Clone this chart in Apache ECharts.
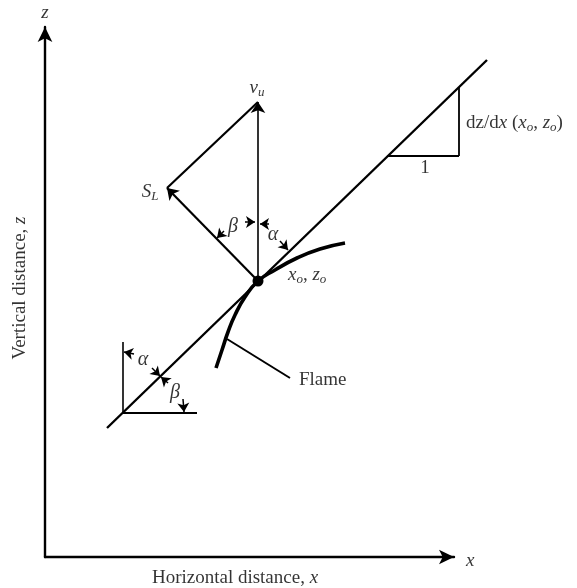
<!DOCTYPE html>
<html><head><meta charset="utf-8">
<script src="https://cdn.jsdelivr.net/npm/echarts@6/dist/echarts.min.js"></script>
<style>html,body{margin:0;padding:0;background:#fff}#c{width:577px;height:588px}</style>
</head><body><div id="c"></div>
<script>
// Diagram coordinates (origin at the corner of the axes)
const xRange = [0, 409];
const zRange = [0, 530];
const tangentLine = [[62, 129], [442, 497]];
const slopeRun = [[342, 401], [414, 401]];
const slopeRise = [[414, 401], [414, 470]];
const pointO = [213, 276];
const velocityTip = [213, 455];
const flameSpeedTip = [122, 369];
const flameCurve = [[300, 314], [275, 308], [252, 299], [230, 287], [213, 276], [200, 260], [190, 242], [183, 225], [177, 207], [171, 189]];
const flameLeader = [[182, 218], [245, 179]];
const refCorner = [78, 144];
const refVerticalTop = [78, 215];
const refHorizontalEnd = [152, 144];
const angleArrows = [
  [[179, 326], [172, 319]],
  [[200, 335], [210, 335]],
  [[224, 333], [215, 333]],
  [[235, 316], [243, 307]],
  [[89, 203], [79, 205]],
  [[107, 189], [115, 181]],
  [[123, 174], [116, 180]],
  [[138, 158], [139, 145]]
];
const labelTexts = [
  '{i|v}{s|u}', '{i|S}{s|L}', '{g|β}', '{g|α}', '{i|x}{s|o}{n|, }{i|z}{s|o}',
  '{n|dz/d}{i|x}{n| (}{i|x}{s|o}{n|, }{i|z}{s|o}{n|)}', '{n|1}', '{g|α}', '{g|β}', '{n|Flame}',
  '{i|z}', '{i|x}', '{n|Horizontal distance, }{i|x}', '{n|Vertical distance, }{i|z}'
];
const labelPoints = [
  [212, 469], [105, 365], [188, 330], [228, 322], [243, 282],
  [421, 434], [380, 389], [98, 197], [130, 164], [254, 177],
  [0, 544], [421, -4], [190, -21], [-25, 269]
];
const labelAnchors = ['c','c','c','c','l','l','c','c','c','l','c','l','c','c'];
const labelRotations = [0,0,0,0,0,0,0,0,0,0,0,0,0,90];

const FONT = 'Liberation Serif';
const INK = '#000';
const rich = {
  n: {fontFamily: FONT, fontSize: 19, color: INK},
  i: {fontFamily: FONT, fontSize: 19, fontStyle: 'italic', color: INK},
  g: {fontFamily: FONT, fontSize: 20, fontStyle: 'italic', color: INK},
  s: {fontFamily: FONT, fontSize: 13, fontStyle: 'italic', color: INK, padding: [9, 0, 0, 0]}
};

const seg = (a, b, w) => ({coords: [a, b], lineStyle: {width: w}});
const plainSegments = [
  seg(tangentLine[0], tangentLine[1], 2.4),
  seg(slopeRun[0], slopeRun[1], 1.8),
  seg(slopeRise[0], slopeRise[1], 1.8),
  seg(flameSpeedTip, velocityTip, 2.2),
  seg(refCorner, refVerticalTop, 1.6),
  seg(refCorner, refHorizontalEnd, 2.2),
  seg(flameLeader[0], flameLeader[1], 2)
];
const vectorSegments = [
  seg(pointO, velocityTip, 1.6),
  seg(pointO, flameSpeedTip, 2.2)
];

const chart = echarts.init(document.getElementById('c'), null, {renderer: 'canvas'});
chart.setOption({
  backgroundColor: '#fff',
  animation: false,
  grid: {left: 45, right: 123, top: 27, bottom: 31},
  xAxis: {
    type: 'value', min: xRange[0], max: xRange[1],
    axisLine: {show: true, symbol: ['none', 'arrow'], symbolSize: [11, 15], lineStyle: {color: INK, width: 2.4}},
    axisTick: {show: false}, axisLabel: {show: false}, splitLine: {show: false}
  },
  yAxis: {
    type: 'value', min: zRange[0], max: zRange[1],
    axisLine: {show: true, symbol: ['none', 'arrow'], symbolSize: [11, 15], lineStyle: {color: INK, width: 2.4}},
    axisTick: {show: false}, axisLabel: {show: false}, splitLine: {show: false}
  },
  series: [
    {
      type: 'lines', coordinateSystem: 'cartesian2d', clip: false,
      lineStyle: {color: INK, width: 2, opacity: 1}, symbol: 'none',
      data: plainSegments
    },
    {
      type: 'lines', coordinateSystem: 'cartesian2d', clip: false,
      lineStyle: {color: INK, width: 1.8, opacity: 1}, symbol: ['none', 'arrow'], symbolSize: 11,
      data: vectorSegments
    },
    {
      type: 'lines', coordinateSystem: 'cartesian2d', clip: false,
      lineStyle: {color: INK, width: 1.5, opacity: 1}, symbol: ['none', 'arrow'], symbolSize: 9,
      data: angleArrows.map(a => ({coords: a}))
    },
    {
      type: 'line', smooth: true, clip: false, showSymbol: false, symbol: 'none',
      lineStyle: {color: INK, width: 3.6},
      data: flameCurve
    },
    {
      type: 'scatter', clip: false, symbolSize: 11, itemStyle: {color: INK, opacity: 1},
      data: [pointO]
    },
    {
      type: 'scatter', clip: false, symbolSize: 0, silent: true,
      data: labelPoints.map((p, k) => ({
        value: p,
        label: {
          show: true,
          formatter: labelTexts[k],
          position: labelAnchors[k] === 'l' ? 'right' : 'inside',
          distance: 0,
          rotate: labelRotations[k],
          rich: rich
        }
      }))
    }
  ]
});
</script>
</body></html>
